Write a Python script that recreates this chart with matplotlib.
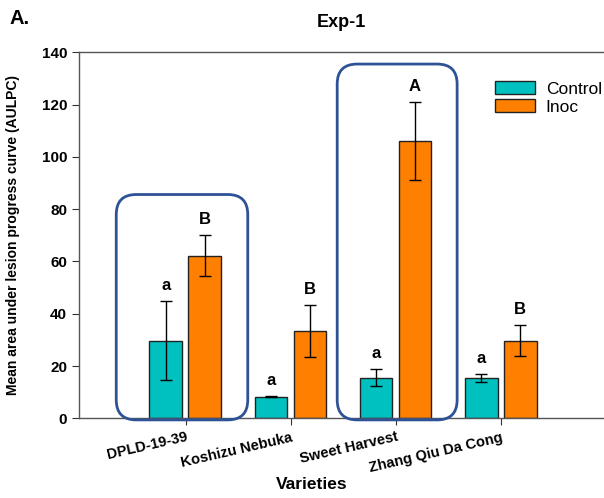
import matplotlib.pyplot as plt
from matplotlib.patches import FancyBboxPatch
import numpy as np

plt.rcParams['font.family'] = ['Liberation Sans', 'DejaVu Sans']

varieties = ["DPLD-19-39", "Koshizu Nebuka", "Sweet Harvest", "Zhang Qiu Da Cong"]
control = [29.6, 8.3, 15.5, 15.4]
control_err = [15.1, 0.3, 3.3, 1.4]
inoc = [62.2, 33.4, 106.0, 29.7]
inoc_err = [7.8, 10.0, 14.9, 5.9]
control_letters = ["a", "a", "a", "a"]
inoc_letters = ["B", "B", "A", "B"]

# highlighted groups: (group index, left offset, right offset, top)
highlights = [(0, -0.66, 0.59, 85.6), (2, -0.56, 0.58, 135.5)]

fig = plt.figure(figsize=(6.04, 4.98), dpi=100)
ax = fig.add_axes([0.1308, 0.16, 0.8692, 0.735])

x = np.arange(len(varieties))
w = 0.31
ekw = dict(ecolor="black", elinewidth=1, capsize=4, capthick=1)
ax.bar(x - 0.19, control, w, yerr=control_err, color="#00C0C0",
       edgecolor="#222222", linewidth=1, error_kw=ekw, label="Control", zorder=2)
ax.bar(x + 0.18, inoc, w, yerr=inoc_err, color="#FF8000",
       edgecolor="#222222", linewidth=1, error_kw=ekw, label="Inoc", zorder=2)

for i in range(len(varieties)):
    ax.annotate(control_letters[i], (x[i] - 0.19, control[i] + control_err[i]),
                xytext=(0, 6), textcoords="offset points", ha="center", va="bottom",
                fontsize=12, fontweight="bold")
    ax.annotate(inoc_letters[i], (x[i] + 0.18, inoc[i] + inoc_err[i]),
                xytext=(0, 6), textcoords="offset points", ha="center", va="bottom",
                fontsize=12, fontweight="bold")

ax.set_xlim(-1.014, 3.976)
ax.set_ylim(0, 140)

for g, lo, hi, top in highlights:
    box = FancyBboxPatch((g + lo, -0.6), hi - lo, top + 0.6,
                         boxstyle="round,pad=0,rounding_size=0.19",
                         mutation_aspect=40.2, facecolor="none",
                         edgecolor="#2E5296", linewidth=2, zorder=3,
                         clip_on=False)
    ax.add_patch(box)

ax.spines["right"].set_visible(False)
for s in ["left", "bottom", "top"]:
    ax.spines[s].set_color("#555555")
    ax.spines[s].set_linewidth(1)

ax.set_yticks(range(0, 141, 20))
ax.set_xticks(x)
ax.set_xticklabels(varieties, rotation=13, ha="right", rotation_mode="anchor",
                   fontsize=10.5, fontweight="bold")
for lab in ax.get_yticklabels():
    lab.set_fontweight("bold")
    lab.set_fontsize(11)
ax.tick_params(axis="both", direction="out", length=5, color="#333333")

ax.set_ylabel("Mean area under lesion progress curve (AULPC)", fontsize=10,
              fontweight="bold")
ax.yaxis.set_label_coords(-0.112, 0.5)
ax.set_xlabel("Varieties", fontsize=12.5, fontweight="bold")
ax.xaxis.set_label_coords(0.444, -0.16)

ax.set_title("Exp-1", fontsize=13, fontweight="bold", pad=18)
fig.text(0.016, 0.963, "A.", fontsize=14.5, fontweight="bold", va="center")

ax.legend(loc="upper left", bbox_to_anchor=(0.78, 0.94), frameon=False,
          fontsize=12.5, handlelength=2.3, handleheight=0.75,
          labelspacing=0.15, handletextpad=0.6, borderaxespad=0)

fig.savefig("out.png", dpi=100)
